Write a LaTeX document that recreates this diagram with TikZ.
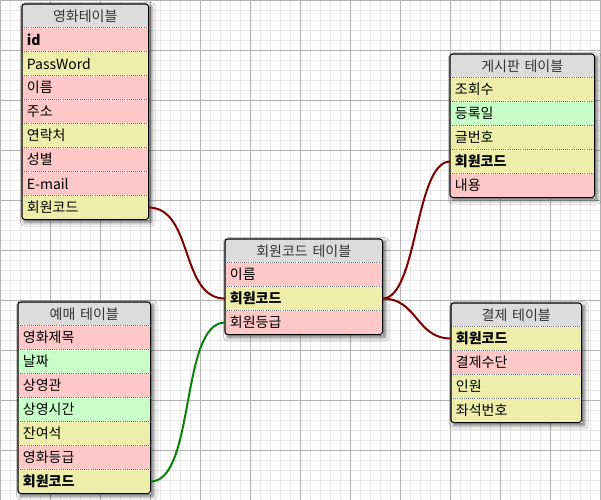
\documentclass[tikz,border=0pt]{standalone}
\usepackage{fontspec}
\setmainfont{Noto Sans CJK KR}
\usepackage{xcolor}
\usepackage{tikz}
\usetikzlibrary{positioning}
\usetikzlibrary{fit,backgrounds}
\usetikzlibrary{shadows,shadows.blur}

\definecolor{headgray}{RGB}{220,220,220}
\definecolor{rowpink}{RGB}{255,200,200}
\definecolor{rowyellow}{RGB}{238,238,170}
\definecolor{rowgreen}{RGB}{200,255,200}
\definecolor{relred}{RGB}{128,0,0}
\definecolor{relgreen}{RGB}{10,130,10}
\definecolor{minorgrid}{RGB}{232,232,232}
\definecolor{majorgrid}{RGB}{178,178,178}

\tikzstyle{cell} = [rectangle, inner xsep=3.5pt, inner ysep=0pt, minimum height=17.6pt,
    align=left, font=\fontsize{10.5}{12}\selectfont]
\tikzstyle{tabhead} = [cell, fill=headgray, minimum height=17.25pt, align=center, text=black!80]
\tikzstyle{pinkrow} = [cell, fill=rowpink]
\tikzstyle{yellowrow} = [cell, fill=rowyellow]
\tikzstyle{greenrow} = [cell, fill=rowgreen]
\tikzstyle{key} = [font=\fontsize{10.5}{12}\selectfont\bfseries]
\tikzstyle{sepline} = [draw=black!55, densely dotted, line width=0.6pt]
\tikzstyle{tabshadow} = [rectangle, inner sep=0pt, fill=white,
    blur shadow={shadow xshift=2pt, shadow yshift=-2pt, shadow blur radius=3pt, shadow opacity=60}]
\tikzstyle{tabframe} = [rectangle, inner sep=0pt, draw=black, line width=0.8pt, rounded corners=2pt]
\tikzstyle{relline} = [draw=relred, line width=1.5pt]

\begin{document}
\begin{tikzpicture}[x=0.75pt, y=-0.75pt]
  \useasboundingbox (0,0) rectangle (601,500);

  % Grid paper
  \begin{scope}[on background layer]
    \fill[white] (0,0) rectangle (601,500);
    \foreach \x in {0,10,...,600} \draw[minorgrid, line width=0.75pt] (\x,0) -- (\x,500);
    \foreach \y in {0,10,...,500} \draw[minorgrid, line width=0.75pt] (0,\y) -- (601,\y);
    \foreach \x in {0,50,...,600} \draw[majorgrid, line width=0.75pt] (\x,0) -- (\x,500);
    \foreach \y in {0,50,...,500} \draw[majorgrid, line width=0.75pt] (0,\y) -- (601,\y);
  \end{scope}

  % Place nodes
  \begin{scope}[every node/.append style={text width=87.5pt}]
    \node [tabhead, anchor=north west] (moviehead) at (22,4) {영화테이블};
    \node [pinkrow, key, below=0pt of moviehead] (movieid) {id};
    \node [yellowrow, below=0pt of movieid] (moviepw) {PassWord};
    \node [pinkrow, below=0pt of moviepw] (moviename) {이름};
    \node [pinkrow, below=0pt of moviename] (movieaddr) {주소};
    \node [yellowrow, below=0pt of movieaddr] (moviephone) {연락처};
    \node [pinkrow, below=0pt of moviephone] (moviesex) {성별};
    \node [pinkrow, below=0pt of moviesex] (moviemail) {E-mail};
    \node [yellowrow, below=0pt of moviemail] (moviecode) {회원코드};
  \end{scope}

  \begin{scope}[every node/.append style={text width=101pt}]
    \node [tabhead, anchor=north west] (boardhead) at (450,54) {게시판 테이블};
    \node [yellowrow, below=0pt of boardhead] (boardviews) {조회수};
    \node [greenrow, below=0pt of boardviews] (boarddate) {등록일};
    \node [yellowrow, below=0pt of boarddate] (boardno) {글번호};
    \node [yellowrow, key, below=0pt of boardno] (boardcode) {회원코드};
    \node [pinkrow, below=0pt of boardcode] (boardtext) {내용};
  \end{scope}

  \begin{scope}[every node/.append style={text width=110.75pt}]
    \node [tabhead, anchor=north west] (memberhead) at (225,239) {회원코드 테이블};
    \node [pinkrow, below=0pt of memberhead] (membername) {이름};
    \node [yellowrow, key, below=0pt of membername] (membercode) {회원코드};
    \node [pinkrow, below=0pt of membercode] (membergrade) {회원등급};
  \end{scope}

  \begin{scope}[every node/.append style={text width=92pt}]
    \node [tabhead, anchor=north west] (bookhead) at (18,302) {예매 테이블};
    \node [pinkrow, below=0pt of bookhead] (booktitle) {영화제목};
    \node [greenrow, below=0pt of booktitle] (bookdate) {날짜};
    \node [pinkrow, below=0pt of bookdate] (bookhall) {상영관};
    \node [greenrow, below=0pt of bookhall] (booktime) {상영시간};
    \node [yellowrow, below=0pt of booktime] (bookseats) {잔여석};
    \node [pinkrow, below=0pt of bookseats] (bookrating) {영화등급};
    \node [yellowrow, key, below=0pt of bookrating] (bookcode) {회원코드};
  \end{scope}

  \begin{scope}[every node/.append style={text width=90.5pt}]
    \node [tabhead, anchor=north west] (payhead) at (451,303) {결제 테이블};
    \node [yellowrow, key, below=0pt of payhead] (paycode) {회원코드};
    \node [pinkrow, below=0pt of paycode] (paymethod) {결제수단};
    \node [yellowrow, below=0pt of paymethod] (paypeople) {인원};
    \node [yellowrow, below=0pt of paypeople] (payseat) {좌석번호};
  \end{scope}

  % Row separators
  \foreach \r in {moviehead,movieid,moviepw,moviename,movieaddr,moviephone,moviesex,moviemail,
                  boardhead,boardviews,boarddate,boardno,boardcode,
                  memberhead,membername,membercode,
                  bookhead,booktitle,bookdate,bookhall,booktime,bookseats,bookrating,
                  payhead,paycode,paymethod,paypeople}
    \draw[sepline] (\r.south west) -- (\r.south east);

  % Table frames and shadows
  \begin{scope}[on background layer]
    \foreach \t/\b in {moviehead/moviecode, boardhead/boardtext, memberhead/membergrade,
                       bookhead/bookcode, payhead/payseat}
      \node [tabshadow, fit=(\t)(\b)] {};
  \end{scope}
  \foreach \t/\b in {moviehead/moviecode, boardhead/boardtext, memberhead/membergrade,
                     bookhead/bookcode, payhead/payseat}
    \node [tabframe, fit=(\t)(\b)] {};

  % Draw edges
  \path [relline] (moviecode.east) .. controls +(45,0) and +(-45,0) .. (membercode.west);
  \path [relline] (membercode.east) .. controls +(35,0) and +(-35,0) .. (boardcode.west);
  \path [relline] (membercode.east) .. controls +(35,0) and +(-35,0) .. (paycode.west);
  \path [relline, draw=relgreen] (bookcode.east) .. controls +(45,0) and +(-45,0) .. (membergrade.west);
\end{tikzpicture}
\end{document}
